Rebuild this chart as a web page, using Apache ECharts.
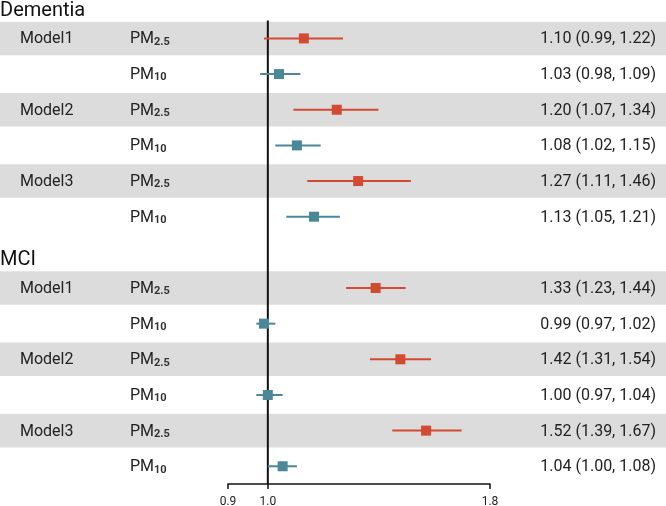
<!DOCTYPE html>
<html>
<head>
<meta charset="utf-8">
<script src="https://cdn.jsdelivr.net/npm/echarts@6/dist/echarts.min.js"></script>
<style>html,body{margin:0;padding:0;background:#fff;}#c{width:666px;height:506px;}</style>
</head>
<body>
<div id="c"></div>
<script>
// Row layout (top to bottom)
const groups = ['Dementia', 'MCI'];
const models = ['Model1', 'Model2', 'Model3'];
const pollutants = ['PM2.5', 'PM10'];
// Estimates [OR, lower, upper] per group -> model -> pollutant
const dementiaPM25 = [[1.10, 0.99, 1.22], [1.20, 1.07, 1.34], [1.27, 1.11, 1.46]];
const dementiaPM10 = [[1.03, 0.98, 1.09], [1.08, 1.02, 1.15], [1.13, 1.05, 1.21]];
const mciPM25 = [[1.33, 1.23, 1.44], [1.42, 1.31, 1.54], [1.52, 1.39, 1.67]];
const mciPM10 = [[0.99, 0.97, 1.02], [1.00, 0.97, 1.04], [1.04, 1.00, 1.08]];
const xTicks = [0.9, 1.0, 1.8];
const refValue = 1.0;

const FONT = 'Roboto, "Noto Sans", sans-serif';
const RED = '#d24a32', BLUE = '#4a8799';

// Build rows
const rows = [];
const groupData = [[dementiaPM25, dementiaPM10], [mciPM25, mciPM10]];
groups.forEach((g, gi) => {
  rows.push({type: 'header', label: g});
  models.forEach((m, mi) => {
    pollutants.forEach((p, pi) => {
      rows.push({type: 'item', model: pi === 0 ? m : '', pol: p, est: groupData[gi][pi][mi], pi: pi});
    });
  });
});
const pm25Pts = [], pm10Pts = [], pm25Err = [], pm10Err = [], bandRows = [], textRows = [];
rows.forEach((r, i) => {
  textRows.push(i);
  if (r.type === 'item') {
    const pt = [r.est[0], i];
    const er = [r.est[1], r.est[2], i];
    if (r.pi === 0) { pm25Pts.push(pt); pm25Err.push(er); bandRows.push(i); }
    else { pm10Pts.push(pt); pm10Err.push(er); }
  }
});

function polRich(p) {
  const sub = p.replace('PM', '');
  return '{m|PM}{s|' + sub + '}';
}

const chart = echarts.init(document.getElementById('c'), null, {renderer: 'canvas'});
function errItem(color) {
  return function (params, api) {
    const a = api.coord([api.value(0), api.value(2)]);
    const b = api.coord([api.value(1), api.value(2)]);
    return {type: 'line', shape: {x1: a[0], y1: a[1], x2: b[0], y2: b[1]},
      style: {stroke: color, lineWidth: 2}};
  };
}
chart.setOption({
  animation: false,
  grid: {left: 228, right: 176, top: 20.6, height: 463.5, containLabel: false, outerBoundsMode: 'none'},
  xAxis: {
    type: 'log', logBase: 10, min: 0.9, max: 1.8,
    axisLine: {show: true, lineStyle: {color: '#111', width: 1.5}},
    axisTick: {show: true, length: 5, lineStyle: {color: '#111', width: 1.5}, customValues: xTicks},
    axisLabel: {show: true, customValues: xTicks, formatter: v => Number(v).toFixed(1),
      fontSize: 12, color: '#222', fontFamily: FONT, margin: 12},
    splitLine: {show: false}, minorTick: {show: false}
  },
  yAxis: {type: 'value', inverse: true, min: 0.5, max: 13.5, show: false},
  series: [
    {
      type: 'custom', z: 0, silent: true, clip: false,
      data: bandRows,
      renderItem: function (params, api) {
        const r = api.value(0);
        const y1 = api.coord([1, r - 0.47])[1];
        const y2 = api.coord([1, r + 0.47])[1];
        return {type: 'rect', shape: {x: 0, y: y1, width: api.getWidth(), height: y2 - y1},
          style: {fill: '#dcdcdc'}};
      }
    },
    {
      type: 'custom', z: 1, silent: true, clip: false,
      data: textRows,
      renderItem: function (params, api) {
        const i = api.value(0);
        const r = rows[i];
        const y = api.coord([1, i])[1];
        if (r.type === 'header') {
          return {type: 'text', x: 0, y: y + 8, style: {text: r.label, fontSize: 20, fontFamily: FONT,
            fill: '#111', align: 'left', verticalAlign: 'middle'}};
        }
        const children = [];
        if (r.model) children.push({type: 'text', x: 20, y: y + 1, style: {text: r.model, fontSize: 16,
          fontFamily: FONT, fill: '#222', align: 'left', verticalAlign: 'middle'}});
        children.push({type: 'text', x: 130, y: y + 1, style: {text: polRich(r.pol), fontFamily: FONT,
          fill: '#222', align: 'left', verticalAlign: 'middle',
          rich: {m: {fontSize: 16, fontFamily: FONT, fill: '#222', verticalAlign: 'bottom'},
                 s: {fontSize: 11, fontWeight: 'bold', fontFamily: FONT, fill: '#333', padding: [5, 0, 0, 0], verticalAlign: 'bottom'}}}});
        const e = r.est;
        children.push({type: 'text', x: 656, y: y + 1, style: {text: e[0].toFixed(2) + ' (' + e[1].toFixed(2) + ', ' + e[2].toFixed(2) + ')',
          fontSize: 16, fontFamily: FONT, fill: '#222', align: 'right', verticalAlign: 'middle'}});
        return {type: 'group', children: children};
      }
    },
    {
      type: 'line', z: 3, silent: true, symbol: 'none',
      data: [[refValue, 0.5], [refValue, 13.5]],
      lineStyle: {color: '#111', width: 2}
    },
    {type: 'custom', z: 4, silent: true, data: pm25Err, renderItem: errItem(RED)},
    {type: 'custom', z: 4, silent: true, data: pm10Err, renderItem: errItem(BLUE)},
    {type: 'scatter', z: 5, symbol: 'rect', symbolSize: 10, data: pm25Pts, itemStyle: {color: RED, opacity: 1}},
    {type: 'scatter', z: 5, symbol: 'rect', symbolSize: 10, data: pm10Pts, itemStyle: {color: BLUE, opacity: 1}}
  ]
});
</script>
</body>
</html>
